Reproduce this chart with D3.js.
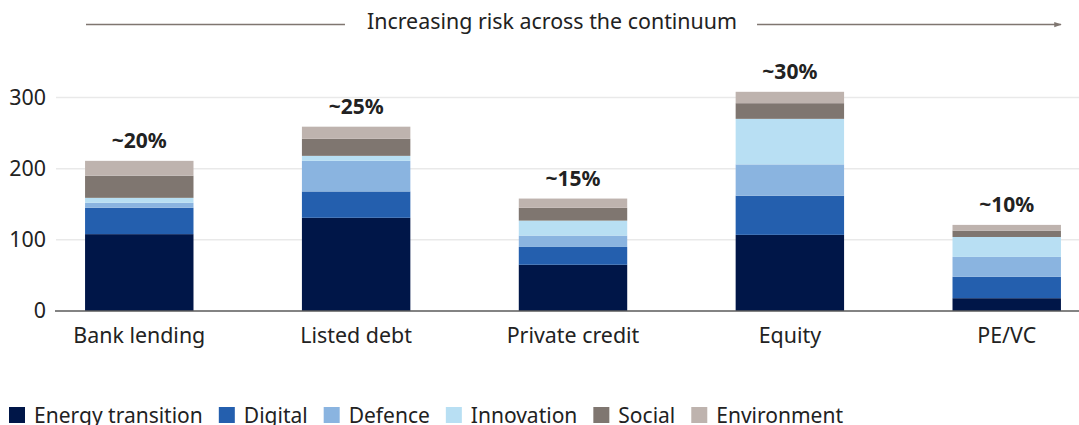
<!DOCTYPE html>
<html>
<head>
<meta charset="utf-8">
<script src="https://cdn.jsdelivr.net/npm/d3@7"></script>
<style>
  html, body { margin: 0; padding: 0; background: #fff; }
  svg { display: block; font-family: "Noto Sans", "Open Sans", sans-serif; }
</style>
</head>
<body>
<svg id="chart" width="1079" height="425"></svg>
<script>
// Financing channels, ordered by increasing risk
const categories = ["Bank lending", "Listed debt", "Private credit", "Equity", "PE/VC"];
const series = ["Energy transition", "Digital", "Defence", "Innovation", "Social", "Environment"];

// Values per series, one entry per category
const energyTransition = [108, 131, 65, 107, 18];
const digital          = [37, 37, 25, 55, 30];
const defence          = [7, 43, 16, 44, 28];
const innovation       = [7, 7, 21, 64, 28];
const social           = [31, 24, 18, 22, 9];
const environment      = [21, 17, 13, 16, 8];

// Share labels above each bar
const shareLabels = ["~20%", "~25%", "~15%", "~30%", "~10%"];
const yTicks = [0, 100, 200, 300];
const title = "Increasing risk across the continuum";

const colors = ["#001648", "#245fae", "#8ab4e0", "#b8dff3", "#7f7670", "#beb3ae"];

const seriesValues = [energyTransition, digital, defence, innovation, social, environment];
const rows = categories.map((c, i) => {
  const r = { category: c };
  series.forEach((s, j) => { r[s] = seriesValues[j][i]; });
  return r;
});

const svg = d3.select("#chart");
const textColor = "#222";
const fontSize = 21.4;

const x = d3.scaleBand()
  .domain(categories)
  .range([56, 1090])
  .paddingInner(0.5)
  .paddingOuter(0.134);

const y = d3.scaleLinear()
  .domain([0, 300])
  .range([311, 97.5]);

// Gridlines
svg.append("g")
  .selectAll("line")
  .data(yTicks.filter(d => d > 0))
  .join("line")
  .attr("x1", 56).attr("x2", 1079)
  .attr("y1", d => y(d)).attr("y2", d => y(d))
  .attr("stroke", "#e9e9e9")
  .attr("stroke-width", 1.5);

// Y axis labels
const yAxis = d3.axisLeft(y).tickValues(yTicks).tickSize(0).tickPadding(0);
svg.append("g")
  .attr("transform", "translate(46,0)")
  .call(yAxis)
  .call(g => g.select(".domain").remove())
  .call(g => g.selectAll("text")
    .attr("font-size", fontSize)
    .attr("font-family", "Noto Sans")
    .attr("fill", textColor));

// Stacked bars
const stack = d3.stack().keys(series);
const stacked = stack(rows);

svg.append("g")
  .selectAll("g")
  .data(stacked)
  .join("g")
  .attr("fill", (d, i) => colors[i])
  .selectAll("rect")
  .data(d => d)
  .join("rect")
  .attr("x", d => x(d.data.category))
  .attr("width", x.bandwidth())
  .attr("y", d => y(d[1]))
  .attr("height", d => y(d[0]) - y(d[1]));

// Baseline
svg.append("line")
  .attr("x1", 55).attr("x2", 1079)
  .attr("y1", y(0)).attr("y2", y(0))
  .attr("stroke", "#5a5a5a")
  .attr("stroke-width", 1.5);

// X axis labels
const xAxis = d3.axisBottom(x).tickSize(0).tickPadding(0);
svg.append("g")
  .attr("transform", `translate(0,${y(0)})`)
  .call(xAxis)
  .call(g => g.select(".domain").remove())
  .call(g => g.selectAll("text")
    .attr("dy", null)
    .attr("y", 32)
    .attr("font-size", fontSize)
    .attr("font-family", "Noto Sans")
    .attr("fill", textColor));

// Share labels
const totals = rows.map(r => d3.sum(series, s => r[s]));
svg.append("g")
  .selectAll("text")
  .data(categories)
  .join("text")
  .attr("x", d => x(d) + x.bandwidth() / 2)
  .attr("y", (d, i) => y(totals[i]) - 13)
  .attr("text-anchor", "middle")
  .attr("font-size", 21)
  .attr("font-weight", "bold")
  .attr("fill", textColor)
  .text((d, i) => shareLabels[i]);

// Risk arrow across the top
const defs = svg.append("defs");
defs.append("marker")
  .attr("id", "arrowhead")
  .attr("viewBox", "0 0 10 10")
  .attr("refX", 9).attr("refY", 5)
  .attr("markerWidth", 5).attr("markerHeight", 5)
  .attr("orient", "auto")
  .append("path")
  .attr("d", "M0,1.5 L10,5 L0,8.5 Z")
  .attr("fill", "#7f7670");

const titleText = svg.append("text")
  .attr("x", 552)
  .attr("y", 29)
  .attr("text-anchor", "middle")
  .attr("font-size", fontSize)
  .attr("fill", textColor)
  .text(title);

const tb = titleText.node().getBBox();
svg.append("line")
  .attr("x1", 86).attr("x2", tb.x - 22)
  .attr("y1", 24.5).attr("y2", 24.5)
  .attr("stroke", "#7f7670").attr("stroke-width", 1.5);
svg.append("line")
  .attr("x1", tb.x + tb.width + 20).attr("x2", 1061)
  .attr("y1", 24.5).attr("y2", 24.5)
  .attr("stroke", "#7f7670").attr("stroke-width", 1.5)
  .attr("marker-end", "url(#arrowhead)");

// Legend
const legend = svg.append("g");
let lx = 9;
series.forEach((s, i) => {
  legend.append("rect")
    .attr("x", lx).attr("y", 407)
    .attr("width", 16).attr("height", 16)
    .attr("fill", colors[i]);
  const t = legend.append("text")
    .attr("x", lx + 25).attr("y", 423)
    .attr("font-size", 21)
    .attr("fill", textColor)
    .text(s);
  lx += 25 + t.node().getComputedTextLength() + 16;
});
</script>
</body>
</html>
